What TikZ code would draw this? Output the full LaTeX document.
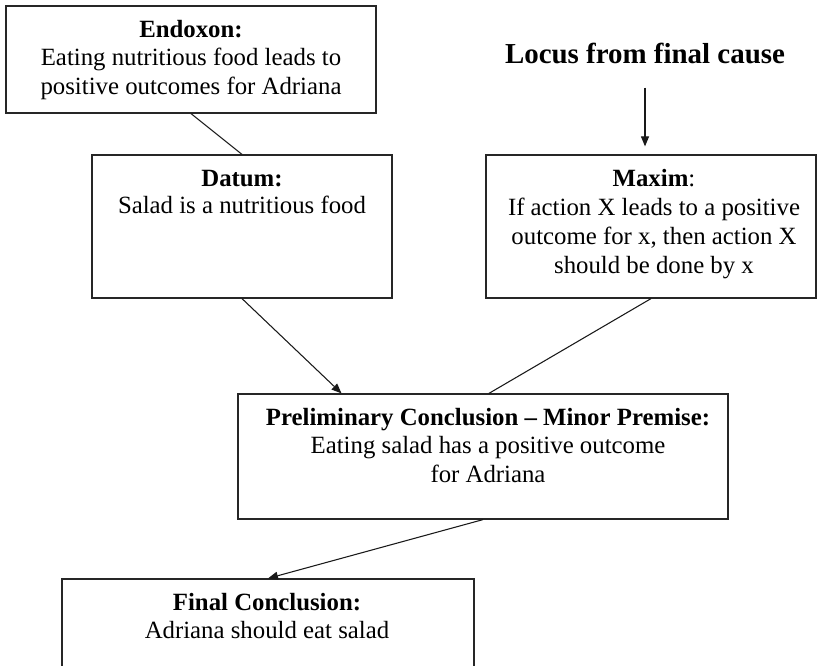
\documentclass[tikz,border=0pt]{standalone}
\usepackage{fontspec}
\setmainfont{Liberation Serif}
\usetikzlibrary{arrows.meta,fit,calc}

\begin{document}
\begin{tikzpicture}[
    x=0.75pt, y=-0.75pt,
    box/.style={draw=black!85, line width=0.9pt, inner sep=0pt, rectangle},
    txt/.style={inner sep=0pt, anchor=base, text=black,
                font=\fontsize{18.6pt}{21.75pt}\selectfont},
    head/.style={inner sep=0pt, anchor=base, text=black,
                font=\fontsize{21.7pt}{26pt}\selectfont\bfseries},
    link/.style={draw=black!90, line width=0.8pt},
    arrow/.style={link, -{Triangle[length=7.5pt,width=6pt]}}
  ]
  \useasboundingbox (0,0) rectangle (817,665);
  \clip (0,0) rectangle (817,665);

  % boxes
  \node[box, fit={(6,6) (376,113)}] (endoxon) {};
  \node[box, fit={(92,155) (392,298)}] (datum) {};
  \node[box, fit={(486,155) (816,298)}] (maxim) {};
  \node[box, fit={(238,394) (728,519)}] (prelim) {};
  \node[box, fit={(62,579) (474,690)}] (final) {};

  % Endoxon
  \node[txt] (endoxon-h) at (191,37) {\bfseries Endoxon:};
  \node[txt] (endoxon-1) at (191,65) {Eating nutritious food leads to};
  \node[txt] (endoxon-2) at (191,94) {positive outcomes for Adriana};

  % Datum
  \node[txt] (datum-h) at (242,186) {\bfseries Datum:};
  \node[txt] (datum-1) at (242,213) {Salad is a nutritious food};

  % Locus
  \node[head] (locus) at (645,63) {Locus from final cause};

  % Maxim
  \node[txt] (maxim-h) at (654,186) {\textbf{Maxim}:};
  \node[txt] (maxim-1) at (654,215) {If action X leads to a positive};
  \node[txt] (maxim-2) at (654,244) {outcome for x, then action X};
  \node[txt] (maxim-3) at (654,273) {should be done by x};

  % Preliminary conclusion
  \node[txt] (prelim-h) at (488,425) {\bfseries Preliminary Conclusion -- Minor Premise:};
  \node[txt] (prelim-1) at (488,453) {Eating salad has a positive outcome};
  \node[txt] (prelim-2) at (488,482) {for Adriana};

  % Final conclusion
  \node[txt] (final-h) at (267,610) {\bfseries Final Conclusion:};
  \node[txt] (final-1) at (267,638) {Adriana should eat salad};

  % connectors
  \draw[link] (endoxon.south) -- (datum.north);
  \draw[arrow, shorten <=18pt, shorten >=6pt] (locus.south) -- (locus.south |- maxim.north);
  \draw[arrow] (datum.south) -- ($(prelim.north west)!0.212!(prelim.north east)$);
  \draw[link] (maxim.south) -- ($(prelim.north west)!0.512!(prelim.north east)$);
  \draw[arrow] (prelim.south) -- (final.north);
\end{tikzpicture}
\end{document}
